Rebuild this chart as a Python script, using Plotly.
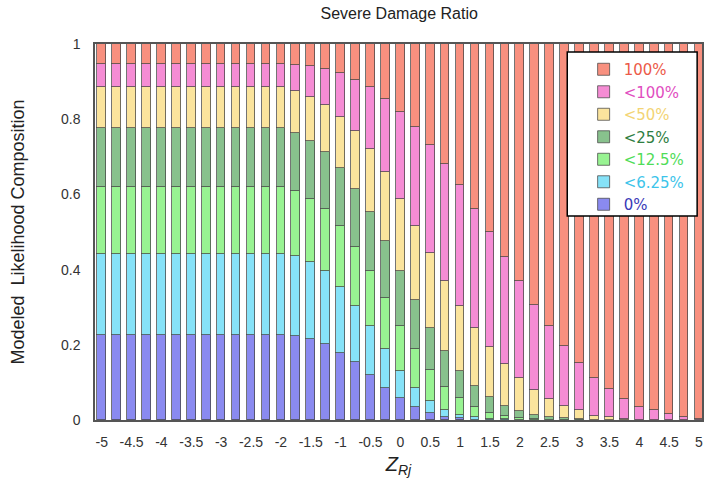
import plotly.graph_objects as go

# Z_Rj positions of the stacked bars
z_rj = [-5.0, -4.75, -4.5, -4.25, -4.0, -3.75, -3.5, -3.25, -3.0, -2.75, -2.5,
        -2.25, -2.0, -1.75, -1.5, -1.25, -1.0, -0.75, -0.5, -0.25, 0.0, 0.25,
        0.5, 0.75, 1.0, 1.25, 1.5, 1.75, 2.0, 2.25, 2.5, 2.75, 3.0, 3.25, 3.5,
        3.75, 4.0, 4.25, 4.5, 4.75, 5.0]

# Likelihood share of each severe-damage-ratio class (bottom to top of stack)
share_0 = [0.225] * 13 + [0.224, 0.216, 0.203, 0.179, 0.153, 0.120, 0.086,
           0.058, 0.034, 0.018, 0.009, 0.005, 0.001, 0.0005, 0.0002, 0.0001,
           0, 0, 0, 0, 0, 0, 0, 0, 0, 0, 0, 0]
share_6_25 = [0.216] * 13 + [0.213, 0.205, 0.192, 0.175, 0.151, 0.129, 0.103,
              0.073, 0.051, 0.033, 0.018, 0.008, 0.006, 0.003, 0.0017, 0.0009,
              0.0005, 0.0002, 0.0001, 0, 0, 0, 0, 0, 0, 0, 0, 0]
share_12_5 = [0.178] * 13 + [0.172, 0.166, 0.165, 0.161, 0.157, 0.148, 0.136,
              0.120, 0.104, 0.082, 0.060, 0.045, 0.027, 0.0155, 0.009, 0.0035,
              0.001, 0.0008, 0.0004, 0.0002, 0.0001, 0, 0, 0, 0, 0, 0, 0]
share_25 = [0.158] * 13 + [0.154, 0.154, 0.152, 0.154, 0.154, 0.156, 0.152,
            0.146, 0.129, 0.113, 0.097, 0.073, 0.057, 0.043, 0.027, 0.0205,
            0.0115, 0.006, 0.004, 0.0018, 0.0009, 0.0004, 0.0002, 0, 0, 0, 0, 0]
share_50 = [0.109] * 13 + [0.112, 0.118, 0.127, 0.138, 0.154, 0.167, 0.182,
            0.192, 0.197, 0.197, 0.187, 0.173, 0.155, 0.131, 0.111, 0.086,
            0.067, 0.049, 0.0325, 0.025, 0.010, 0.0066, 0.0018, 0.0008, 0.0004,
            0.0002, 0, 0]
share_lt100 = [0.062] * 13 + [0.069, 0.082, 0.094, 0.116, 0.136, 0.165, 0.194,
               0.230, 0.263, 0.288, 0.309, 0.320, 0.316, 0.306, 0.285, 0.258,
               0.227, 0.193, 0.160, 0.124, 0.100, 0.075, 0.054, 0.034, 0.0266,
               0.0158, 0.009, 0.0035]
share_100 = [0.052] * 13 + [0.056, 0.059, 0.067, 0.077, 0.095, 0.115, 0.147,
             0.181, 0.222, 0.269, 0.320, 0.376, 0.438, 0.501, 0.566, 0.631,
             0.693, 0.751, 0.803, 0.849, 0.889, 0.918, 0.944, 0.965, 0.973,
             0.984, 0.991, 0.9965]

x_tick_vals = [-5, -4.5, -4, -3.5, -3, -2.5, -2, -1.5, -1, -0.5, 0,
               0.5, 1, 1.5, 2, 2.5, 3, 3.5, 4, 4.5, 5]
x_tick_text = ["-5", "-4.5", "-4", "-3.5", "-3", "-2.5", "-2", "-1.5", "-1",
               "-0.5", "0", "0.5", "1", "1.5", "2", "2.5", "3", "3.5", "4",
               "4.5", "5"]
y_tick_vals = [0, 0.2, 0.4, 0.6, 0.8, 1]
y_tick_text = ["0", "0.2", "0.4", "0.6", "0.8", "1"]

# (label, values, bar fill, legend text colour)
classes = [
    ("0%", share_0, "#8a8af0", "#3a3ab8"),
    ("<6.25%", share_6_25, "#86e2f8", "#3cc4ea"),
    ("<12.5%", share_12_5, "#98f392", "#4fdc58"),
    ("<25%", share_25, "#88c18d", "#2f7e42"),
    ("<50%", share_50, "#fbe49d", "#f3d474"),
    ("<100%", share_lt100, "#f58cd4", "#e14dbf"),
    ("100%", share_100, "#f8907f", "#ec5a48"),
]

fig = go.Figure()
for label, vals, fill, text_col in classes:
    fig.add_trace(go.Bar(
        x=z_rj, y=vals,
        name=f"<span style='color:{text_col}'>{label}</span>",
        width=0.145,
        marker=dict(color=fill, line=dict(color="rgba(70,70,70,0.75)", width=1)),
    ))

# white legend panel with black border
fig.add_shape(type="rect", xref="paper", yref="paper",
              x0=0.778, x1=0.992, y0=0.5426, y1=0.9787,
              fillcolor="white", line=dict(color="black", width=1.5),
              layer="above")

fig.update_layout(
    width=704, height=478,
    barmode="stack",
    bargap=0,
    plot_bgcolor="white",
    paper_bgcolor="white",
    margin=dict(l=95, r=0, t=44, b=58),
    font=dict(family="Liberation Sans, Arial, sans-serif", color="#333"),
    title=dict(text="Severe Damage Ratio", x=0.567, xanchor="center",
               y=0.972, yanchor="middle",
               font=dict(size=16, color="#222")),
    legend=dict(
        x=0.805, xanchor="left", y=0.976, yanchor="top",
        bgcolor="rgba(0,0,0,0)", borderwidth=0,
        traceorder="reversed",
        font=dict(family="DejaVu Sans, sans-serif", size=15),
    ),
    xaxis=dict(
        range=[-5.112, 5.05],
        tickmode="array", tickvals=x_tick_vals, ticktext=x_tick_text,
        ticks="", ticklabelstandoff=8,
        tickfont=dict(size=14, color="#333"),
        showgrid=False, zeroline=False,
        showline=True, linecolor="#555", linewidth=1.5, mirror=True,
        title=dict(text="<i>Z<sub>Rj</sub></i>", standoff=8,
                   font=dict(size=20, color="#222")),
    ),
    yaxis=dict(
        range=[0, 1],
        tickmode="array", tickvals=y_tick_vals, ticktext=y_tick_text,
        ticks="", ticklabelstandoff=10,
        tickfont=dict(size=14, color="#333"),
        showgrid=False, zeroline=False,
        showline=True, linecolor="#555", linewidth=1.5, mirror=True,
        title=dict(text="Modeled  Likelihood Composition", standoff=32,
                   font=dict(size=18, color="#222")),
    ),
)

fig.write_html("out.html")
